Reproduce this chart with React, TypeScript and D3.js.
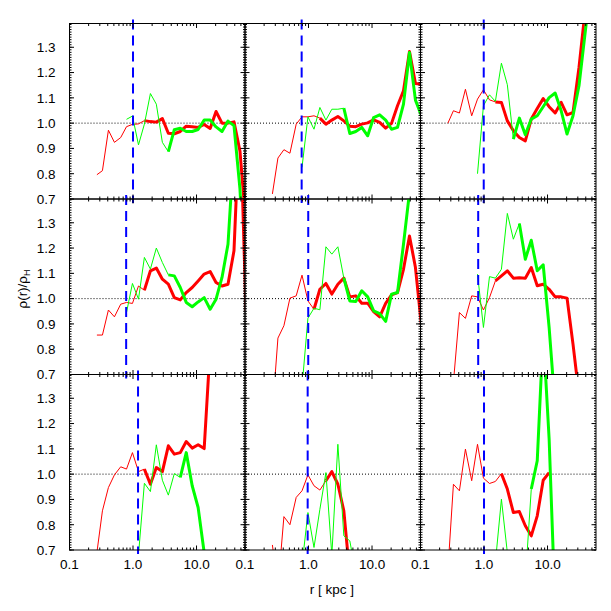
import React from 'react';
import * as d3 from 'd3';

// radial bins (kpc), shared by all panels
const R_KPC = [0.27, 0.33, 0.41, 0.51, 0.64, 0.79, 0.98, 1.22, 1.51, 1.88, 2.33, 2.9, 3.6, 4.47, 5.55, 6.89, 8.55, 10.6, 13.2, 16.4, 20.3, 25.2, 31.3, 38.9, 48.3, 60.0];

const N = null;
// panel A (top-left)
const RED_A = [0.796, 0.812, 0.972, 0.924, 0.943, 0.986, 0.995, 0.997, 1.01, 1.006, 1.004, 1.018, 0.96, 0.958, 0.967, 0.988, 0.986, 0.983, 0.995, 0.979, 1.046, 1.0, 1.0, 1.005, 0.89, 0.6];
const GREEN_A = [N, N, N, N, N, 1.015, 1.028, 0.914, 0.996, 1.117, 1.075, 0.924, 0.887, 0.974, 0.98, 0.967, 0.967, 0.975, 1.012, 1.012, 0.985, 0.967, 1.008, 0.99, 0.74, 0.3];
// panel B (top-middle)
const RED_B = [0.72, 0.862, 0.895, 0.881, 0.996, 1.025, 1.025, 1.029, 1.02, 0.996, 1.012, 1.026, 1.009, 0.988, 0.986, 0.996, 1.001, 1.013, 1.003, 0.98, 0.999, 1.069, 1.128, 1.283, 1.157, 1.154];
const GREEN_B = [N, N, N, N, N, 0.825, 1.025, 0.976, 1.062, 1.012, 1.055, 1.055, 1.059, 0.959, 0.967, 0.983, 0.95, 1.022, 1.033, 1.012, 0.976, 0.983, 1.075, 1.279, 1.091, 1.029];
// panel C (top-right)
const RED_C = [1.0, 1.049, 1.04, 1.134, 1.029, 1.095, 1.132, 1.092, 1.084, 1.082, 1.009, 0.97, 0.943, 0.93, 1.016, 1.058, 1.097, 1.065, 1.04, 1.082, 1.033, 1.042, 1.22, 1.44, N, N];
const GREEN_C = [N, N, N, N, N, 0.8, 1.069, 1.112, 1.086, 1.237, 1.152, 0.937, 1.02, 0.954, 1.016, 1.029, 1.065, 1.101, 1.119, 1.049, 0.957, 1.029, 1.148, 1.352, 1.55, N];
// panel D (middle-left)
const RED_D = [0.856, 0.856, 0.955, 0.928, 0.978, 0.985, 0.981, 1.05, 1.033, 1.11, 1.121, 1.077, 1.057, 1.004, 0.995, 1.024, 1.044, 1.07, 1.097, 1.107, 1.064, 1.05, 1.057, 1.189, 1.75, 0.95];
const GREEN_D = [N, N, N, N, N, 0.945, 1.06, 0.998, 1.163, 1.117, 1.2, 1.143, 1.094, 1.09, 1.044, 0.985, 0.968, 0.987, 1.004, 0.958, 0.998, 1.084, 1.215, 1.6, N, N];
// panel E (center)
const RED_E = [0.55, 0.844, 0.893, 1.002, 1.011, 1.093, 0.991, 0.958, 1.037, 1.06, 1.018, 1.057, 1.081, 1.007, 1.011, 0.982, 0.982, 0.949, 0.928, 0.981, 1.015, 1.024, 1.116, 1.248, 1.123, 0.893];
const GREEN_E = [N, N, N, N, N, 0.65, 0.923, 0.962, 0.956, 1.205, 1.176, 1.205, 1.081, 0.991, 0.989, 1.031, 1.007, 0.952, 0.941, 0.91, 1.018, 1.024, 1.215, 1.42, N, N];
// panel F (middle-right)
const RED_F = [N, 0.67, 0.945, 0.922, 1.011, 1.007, 0.955, 1.004, 1.07, 1.09, 1.11, 1.081, 1.083, 1.081, 1.123, 1.051, 1.057, 1.037, 1.007, 1.007, 1.002, 0.82, 0.62, N, N, N];
const GREEN_F = [N, N, N, N, N, 1.097, 0.886, 1.087, 1.081, 1.116, 1.337, 1.235, 1.297, 1.156, 1.231, 1.11, 1.134, 0.886, 0.57, N, N, N, N, N, N, N];
// panel G (bottom-left)
const RED_G = [0.69, 0.855, 0.947, 0.997, 1.029, 1.02, 1.085, 1.01, 1.02, 0.96, 1.026, 1.01, 1.112, 1.079, 1.085, 1.129, 1.103, 1.116, 1.101, 1.5, N, N, N, N, N, N];
const GREEN_G = [N, N, N, N, N, N, N, 0.68, 0.964, 0.931, 1.116, 0.976, 0.917, 1.002, 0.987, 1.085, 0.954, 0.868, 0.69, N, N, N, N, N, N, N];
// panel H (bottom-middle)
const RED_H = [0.72, 0.55, 0.832, 0.8, 0.908, 0.934, 0.997, 0.954, 0.937, 0.974, 1.01, 0.96, 0.855, 0.6, N, N, N, N, N, N, N, N, N, N, N, N];
const GREEN_H = [N, N, N, N, N, 0.64, 0.848, 0.71, 0.861, 1.006, 0.68, 1.118, 0.756, 0.736, 0.61, N, N, N, N, N, N, N, N, N, N, N];
// panel I (bottom-right)
const RED_I = [0.62, 0.96, 0.934, 1.099, 0.974, 1.118, 0.984, 0.963, 0.971, 1.002, 0.941, 0.848, 0.852, 0.796, 0.756, 0.835, 0.976, 1.006, N, N, N, N, N, N, N, N];
const GREEN_I = [N, N, N, N, N, N, N, N, 0.65, 0.901, 0.69, 0.5, 0.45, 0.58, 0.941, 1.053, 1.56, 1.14, 0.47, N, N, N, N, N, N, N];

const RED_SERIES = [RED_A, RED_B, RED_C, RED_D, RED_E, RED_F, RED_G, RED_H, RED_I];
const GREEN_SERIES = [GREEN_A, GREEN_B, GREEN_C, GREEN_D, GREEN_E, GREEN_F, GREEN_G, GREEN_H, GREEN_I];
// index where the curve switches from thin to thick
const RED_THICK_FROM = [8, 8, 8, 8, 7, 8, 8, 9, 9];
const GREEN_THICK_FROM = [12, 12, 11, 12, 12, 12, 14, 99, 14];
// dashed vertical marker radius (kpc)
const CORE_R = [1.0, 0.78, 0.99, 0.78, 0.99, 0.81, 1.2, 0.97, 1.0];

const X_MAJOR = [0.1, 1, 10];
const X_MAJOR_LABELS = ['0.1', '1.0', '10.0'];
const X_MINOR = [0.2, 0.3, 0.4, 0.5, 0.6, 0.7, 0.8, 0.9, 2, 3, 4, 5, 6, 7, 8, 9, 20, 30, 40, 50];
const Y_MAJOR = [0.7, 0.8, 0.9, 1.0, 1.1, 1.2, 1.3];
const Y_MAJOR_LABELS = ['0.7', '0.8', '0.9', '1.0', '1.1', '1.2', '1.3'];

const X0 = 69.5;
const Y0 = 23.5;
const PW = 175.5;
const PH = 175.5;
const FONT = 'Liberation Sans, Arial, Helvetica, sans-serif';

export default function App() {
  const x = d3.scaleLog().domain([0.1, 58]).range([0, PW]);
  const y = d3.scaleLinear().domain([0.7, 1.394]).range([PH, 0]);
  const yMinor = d3.range(70, 140).map((k) => k / 100);

  const line = d3
    .line<{ r: number; v: number | null }>()
    .defined((d) => d.v != null)
    .x((d) => x(d.r))
    .y((d) => y(d.v as number));

  const split = (vals: (number | null)[], from: number) => {
    const pts = vals.map((v, i) => ({ r: R_KPC[i], v }));
    return { thin: pts.slice(0, Math.min(from + 1, pts.length)), thick: pts.slice(Math.min(from, pts.length)) };
  };

  const panels = [];
  for (let p = 0; p < 9; p++) {
    const row = Math.floor(p / 3);
    const col = p % 3;
    const gx = X0 + col * PW;
    const gy = Y0 + row * PH;
    const red = split(RED_SERIES[p], RED_THICK_FROM[p]);
    const green = split(GREEN_SERIES[p], GREEN_THICK_FROM[p]);
    const cx = x(CORE_R[p]);
    panels.push(
      <g key={p} transform={`translate(${gx},${gy})`}>
        <defs>
          <clipPath id={`clip${p}`}>
            <rect x={0} y={0} width={PW} height={PH} />
          </clipPath>
        </defs>
        <g clipPath={`url(#clip${p})`}>
          <line x1={0} x2={PW} y1={y(1)} y2={y(1)} stroke="#000" strokeWidth={1} strokeDasharray="1,2" />
          <path d={line(red.thin) || ''} fill="none" stroke="#ff0000" strokeWidth={1} strokeLinejoin="round" />
          <path d={line(red.thick) || ''} fill="none" stroke="#ff0000" strokeWidth={3} strokeLinejoin="round" />
          <path d={line(green.thin) || ''} fill="none" stroke="#00ff00" strokeWidth={1} strokeLinejoin="round" />
          <path d={line(green.thick) || ''} fill="none" stroke="#00ff00" strokeWidth={3} strokeLinejoin="round" />
        </g>
        <line x1={cx} x2={cx} y1={-4} y2={PH + 4} stroke="#0000ff" strokeWidth={2} strokeDasharray="10,6" />
        {X_MAJOR.map((t) => (
          <g key={'xM' + t}>
            <line x1={x(t)} x2={x(t)} y1={PH} y2={PH - 4.5} stroke="#000" />
            <line x1={x(t)} x2={x(t)} y1={0} y2={4.5} stroke="#000" />
          </g>
        ))}
        {X_MINOR.map((t) => (
          <g key={'xm' + t}>
            <line x1={x(t)} x2={x(t)} y1={PH} y2={PH - 2.5} stroke="#000" />
            <line x1={x(t)} x2={x(t)} y1={0} y2={2.5} stroke="#000" />
          </g>
        ))}
        {yMinor.map((t) => (
          <g key={'ym' + t}>
            <line x1={0} x2={2} y1={y(t)} y2={y(t)} stroke="#000" />
            <line x1={PW} x2={PW - 2} y1={y(t)} y2={y(t)} stroke="#000" />
          </g>
        ))}
        {Y_MAJOR.map((t) => (
          <g key={'yM' + t}>
            <line x1={0} x2={4.5} y1={y(t)} y2={y(t)} stroke="#000" />
            <line x1={PW} x2={PW - 4.5} y1={y(t)} y2={y(t)} stroke="#000" />
          </g>
        ))}
        <rect x={0} y={0} width={PW} height={PH} fill="none" stroke="#000" strokeWidth={1} />
        {col === 0 &&
          Y_MAJOR.map((t, i) => (
            <text key={'yl' + t} x={-14} y={y(t) + 4.8} textAnchor="end" fontSize={13.5} fontFamily={FONT}>
              {Y_MAJOR_LABELS[i]}
            </text>
          ))}
        {row === 2 &&
          X_MAJOR.map((t, i) => (
            <text key={'xl' + t} x={x(t)} y={PH + 18.5} textAnchor="middle" fontSize={13.5} fontFamily={FONT}>
              {X_MAJOR_LABELS[i]}
            </text>
          ))}
      </g>
    );
  }

  return (
    <svg width={611} height={611} style={{ position: 'absolute', left: 0, top: 0, background: '#fff' }}>
      <rect x={0} y={0} width={611} height={611} fill="#fff" />
      {panels}
      <text x={332} y={594} textAnchor="middle" fontSize={13.5} fontFamily={FONT}>
        r [ kpc ]
      </text>
      <text transform="translate(27,289) rotate(-90)" textAnchor="middle" fontSize={13.5} fontFamily={FONT}>
        ρ(r)/ρ<tspan fontSize={9} dy={3}>H</tspan>
      </text>
    </svg>
  );
}
